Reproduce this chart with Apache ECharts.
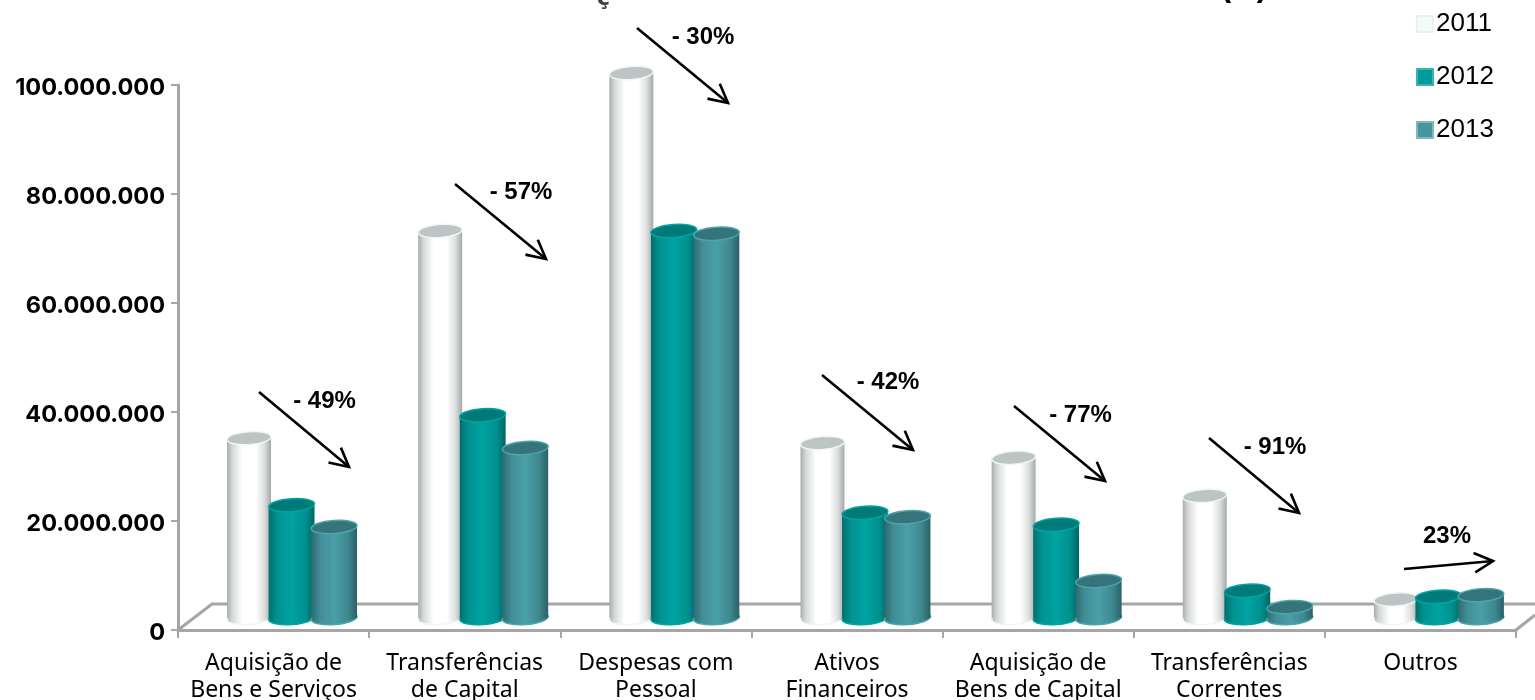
<!DOCTYPE html>
<html><head><meta charset="utf-8">
<style>html,body{margin:0;padding:0;background:#fff}#c{width:1535px;height:700px}</style>
<script src="https://cdn.jsdelivr.net/npm/echarts@6/dist/echarts.min.js"></script>
</head><body><div id="c"></div>
<script>
const categories = ['Aquisição de\nBens e Serviços','Transferências\nde Capital','Despesas com\nPessoal','Ativos\nFinanceiros','Aquisição de\nBens de Capital','Transferências\nCorrentes','Outros'];
const years = ['2011','2012','2013'];
const v2011 = [33000000,71000000,100000000,32100000,29400000,22400000,3400000];
const v2012 = [20700000,37200000,71000000,19300000,17100000,5000000,3900000];
const v2013 = [16700000,31200000,70500000,18500000,6800000,2000000,4200000];
const changes = ['- 49%','- 57%','- 30%','- 42%','- 77%','- 91%','23%'];

const GRID = {left:178,right:19,top:85,bottom:70,outerBoundsMode:'none'};
const DEPTH = {dx:18,dy:-12};
const fmt = v => String(v).replace(/\B(?=(\d{3})+$)/g,'.');
const grad = (stops) => ({type:'linear',x:0,y:0,x2:1,y2:0,colorStops:stops.map(c=>({offset:c[0],color:c[1]}))});
const styles = [
 {w:.23,legend:'#f4f9f9',legendBorder:'#e8f2f2',edge:'#eef6f6',top:'#bcc4c4',body:grad([[0,'#a9acac'],[.12,'#d6d8d8'],[.35,'#ffffff'],[.65,'#ffffff'],[.85,'#dcdede'],[1,'#a4a8a8']])},
 {w:.24,legend:'#009a98',legendBorder:'#3cb3b1',edge:'#00a5a3',top:'#007a78',body:grad([[0,'#006f6d'],[.2,'#009391'],[.5,'#00a3a1'],[.8,'#00908e'],[1,'#006664']])},
 {w:.24,legend:'#45979f',legendBorder:'#80b8bd',edge:'#4aa5ad',top:'#36747c',body:grad([[0,'#2f6a72'],[.2,'#428e96'],[.5,'#4b9fa7'],[.8,'#3f8890'],[1,'#2b6068']])}
];
const TILT = 0.07;
const cyl = (si) => function(params, api){
  const cat = api.value(0), val = api.value(1);
  const band = api.size([1,0])[0];
  const s = styles[si], w = band*s.w, step = band*0.2225;
  const cx = api.coord([cat,0])[0] + DEPTH.dx + (si-1)*step;
  const yb = api.coord([cat,0])[1] + DEPTH.dy;
  const yt = api.coord([cat,val])[1] + DEPTH.dy;
  const rx = w/2, ry = 6.5;
  const ell = (cy,fill,stroke)=>({type:'ellipse',shape:{cx:cx,cy:cy,rx:rx,ry:ry},rotation:TILT,originX:cx,originY:cy,
     style:{fill:fill,stroke:stroke,lineWidth:1.5}});
  return {type:'group',children:[
    ell(yb,s.body,s.edge),
    {type:'rect',shape:{x:cx-rx,y:yt,width:w,height:Math.max(0,yb-yt)},style:{fill:s.body}},
    ell(yt,s.top,s.edge)
  ]};
};
const series = [v2011,v2012,v2013].map((vals,si)=>({
  name:years[si],type:'custom',renderItem:cyl(si),
  itemStyle:{color:styles[si].legend,borderColor:styles[si].legendBorder,borderWidth:1},
  encode:{x:0,y:1},clip:false,z:3+si,
  data:vals.map((v,i)=>[i,v])
}));

const arrow = (x1,y1,x2,y2,label,tx,ty)=>{
  const a=Math.atan2(y2-y1,x2-x1),L=21,b=0.48;
  return [
   {type:'polyline',shape:{points:[[x1,y1],[x2,y2]]},style:{stroke:'#000',lineWidth:2.6,fill:null},z:20},
   {type:'polyline',shape:{points:[[x2-L*Math.cos(a-b),y2-L*Math.sin(a-b)],[x2,y2],[x2-L*Math.cos(a+b),y2-L*Math.sin(a+b)]]},style:{stroke:'#000',lineWidth:2.6,fill:null},z:20},
   {type:'text',x:tx,y:ty,style:{text:label,fill:'#000',font:'bold 24px "Liberation Sans"',textAlign:'center',textVerticalAlign:'middle'},z:20}
  ];
};
const arrows = [
 [259,392,349,467,324.5,401],[455,184,546,259,521,192],[637,28,728,103,703,37],
 [822,375,913,450,888,382],[1014,406,1105,481,1080.5,415],[1209,438,1299,513,1275,447],[1404,569,1493,561,1447,536]
];
const floorLine = (pts)=>({type:'polyline',shape:{points:pts},style:{stroke:'#a6a6a6',lineWidth:3,fill:null},z:1});

const chart = echarts.init(document.getElementById('c'),null,{renderer:'canvas'});
chart.setOption({
  animation:false,
  backgroundColor:'#fff',
  title:{text:'ç',left:592,top:-17,textStyle:{fontFamily:'DejaVu Sans',fontWeight:'bold',fontSize:22}},
  legend:{show:true,orient:'vertical',left:1411,top:6,itemWidth:16,itemHeight:16,itemGap:27,selectedMode:false,
    icon:'rect',textStyle:{fontFamily:'Liberation Sans',fontSize:26,color:'#000',padding:[0,0,0,-2]},data:years},
  grid:GRID,
  xAxis:{type:'category',data:categories,
    axisLine:{lineStyle:{color:'#a6a6a6',width:3}},
    axisTick:{show:true,length:8,lineStyle:{color:'#a6a6a6',width:2}},
    axisLabel:{fontFamily:'Noto Sans',fontSize:23,color:'#000',lineHeight:27,margin:20,interval:0}},
  yAxis:{type:'value',min:0,max:100000000,interval:20000000,
    splitLine:{show:false},
    axisLine:{show:true,lineStyle:{color:'#a6a6a6',width:3}},
    axisTick:{show:true,length:7,lineStyle:{color:'#a6a6a6',width:2}},
    axisLabel:{fontFamily:'Inter',fontWeight:'bold',fontSize:23.5,color:'#000',margin:13,verticalAlign:'top',lineHeight:5,formatter:v=>fmt(v)}},
  series,
  graphic:{elements:[
    floorLine([[178,630],[212,604],[1535,604]]),
    floorLine([[1516,630],[1535,615]]),
    {type:'text',x:1244,y:6,style:{text:'(  )',fill:'#000',font:'bold 30px "DejaVu Sans"',textAlign:'center',textVerticalAlign:'bottom'},z:20},
    ...arrows.flatMap((a,i)=>arrow(a[0],a[1],a[2],a[3],changes[i],a[4],a[5]))
  ]}
});
</script></body></html>
